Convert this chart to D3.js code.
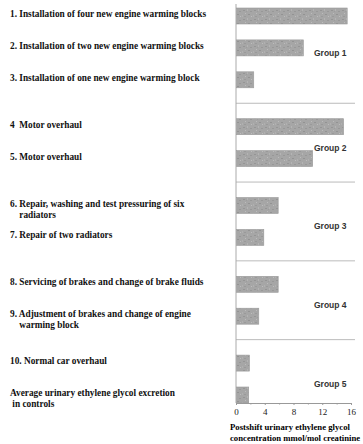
<!DOCTYPE html>
<html>
<head>
<meta charset="utf-8">
<script src="https://cdn.jsdelivr.net/npm/d3@7"></script>
<style>
  body { margin: 0; background: #fff; }
  svg { display: block; }
  .lbl { font-family: 'Liberation Serif', serif; font-weight: bold; font-size: 9.3px; fill: #111; }
  .tit { font-size: 8.7px; fill: #000; }
  .grp { font-family: 'Liberation Sans', sans-serif; font-weight: bold; font-size: 8.5px; fill: #333; }
  .eje text { font-family: 'Liberation Serif', serif; font-size: 9px; fill: #222; }
  .eje path, .eje line { stroke: #999; }
</style>
</head>
<body>
<div id="graf"></div>
<script>
// I. Datos
labels = [
  ['1. Installation of four new engine warming blocks'],
  ['2. Installation of two new engine warming blocks'],
  ['3. Installation of one new engine warming block'],
  ['4  Motor overhaul'],
  ['5. Motor overhaul'],
  ['6. Repair, washing and test pressuring of six', '    radiators'],
  ['7. Repair of two radiators'],
  ['8. Servicing of brakes and change of brake fluids'],
  ['9. Adjustment of brakes and change of engine', '    warming block'],
  ['10. Normal car overhaul'],
  ['Average urinary ethylene glycol excretion', ' in controls']
]
valores = [15.4, 9.3, 2.4, 14.9, 10.6, 5.8, 3.8, 5.8, 3.1, 1.8, 1.7]
grupos  = [0, 0, 0, 1, 1, 2, 2, 3, 3, 4, 4]
nombresGrupo = ['Group 1', 'Group 2', 'Group 3', 'Group 4', 'Group 5']
ticksX = [0, 4, 8, 12, 16]
ticksMenores = [2, 6, 10, 14]
tituloX = ['Postshift urinary ethylene glycol', 'concentration mmol/mol creatinine']

// II. Configuración
ancho = 363
alto = 444
svg = d3.select('#graf').append('svg')
  .attr('width', ancho).attr('height', alto)

// textura gris moteada de las barras
defs = svg.append('defs')
pat = defs.append('pattern').attr('id', 'tex')
  .attr('width', 11).attr('height', 9).attr('patternUnits', 'userSpaceOnUse')
pat.append('rect').attr('width', 11).attr('height', 9).attr('fill', '#a6a6a6')
motas = [
  [1, 1, 2, 1, '#959595'], [5, 0, 1, 2, '#b4b4b4'], [8, 2, 2, 1, '#989898'],
  [3, 4, 1, 1, '#bcbcbc'], [6, 5, 2, 1, '#939393'], [0, 6, 1, 2, '#b0b0b0'],
  [9, 7, 1, 1, '#bdbdbd'], [2, 7, 2, 1, '#9a9a9a'], [4, 2, 1, 1, '#9d9d9d']
]
pat.selectAll('rect.m').data(motas).enter().append('rect')
  .attr('x', d => d[0]).attr('y', d => d[1])
  .attr('width', d => d[2]).attr('height', d => d[3])
  .attr('fill', d => d[4])

x = d3.scaleLinear().domain([0, 16]).range([236, 351])

gap = 0.47
slot = valores.map((d, i) => i + grupos[i] * gap)
y = d3.scaleLinear().domain([0, d3.max(slot)]).range([16, 395])
altoBarra = 16

// III. Separadores de grupo
sep = []
for (let i = 1; i < valores.length; i++) {
  if (grupos[i] !== grupos[i - 1]) sep.push((y(slot[i]) + y(slot[i - 1])) / 2)
}
svg.selectAll('line.sep').data(sep).enter().append('line')
  .attr('class', 'sep')
  .attr('x1', x(0)).attr('x2', x(16) + 4)
  .attr('y1', d => d).attr('y2', d => d)
  .attr('stroke', '#bbb').attr('stroke-width', 1)

// eje vertical
svg.append('line')
  .attr('x1', x(0)).attr('x2', x(0))
  .attr('y1', 4).attr('y2', y(slot[slot.length - 1]) + altoBarra / 2)
  .attr('stroke', '#aaa')

// IV. Barras
svg.selectAll('rect.bar').data(valores).enter().append('rect')
  .attr('class', 'bar')
  .attr('x', x(0) + 0.5)
  .attr('y', (d, i) => y(slot[i]) - altoBarra / 2)
  .attr('width', d => x(d) - x(0))
  .attr('height', altoBarra)
  .attr('fill', 'url(#tex)')
  .attr('stroke', '#9a9a9a').attr('stroke-width', 0.6)

// V. Etiquetas
lbl = svg.selectAll('text.lbl').data(labels).enter().append('text')
  .attr('class', 'lbl')
  .attr('x', 10)
  .attr('y', (d, i) => y(slot[i]) + 1)
  .attr('xml:space', 'preserve')
lbl.selectAll('tspan').data(d => d).enter().append('tspan')
  .attr('x', 10)
  .attr('dy', (d, j) => j === 0 ? 0 : 11)
  .text(d => d)

// Nombres de grupo
svg.selectAll('text.grp').data(nombresGrupo).enter().append('text')
  .attr('class', 'grp')
  .attr('x', 314)
  .attr('y', (d, g) => {
    idx = d3.range(valores.length).filter(i => grupos[i] === g)
    return d3.mean(idx, i => y(slot[i])) + 8
  })
  .text(d => d)

// VI. Eje X
ejeY = y(slot[slot.length - 1]) + altoBarra / 2
svg.append('g')
  .attr('class', 'eje')
  .attr('transform', `translate(0, ${ ejeY })`)
  .call(d3.axisBottom(x).tickValues(ticksX).tickSize(2).tickPadding(4))

svg.append('g')
  .attr('class', 'eje')
  .attr('transform', `translate(0, ${ ejeY })`)
  .call(d3.axisBottom(x).tickValues(ticksMenores).tickSize(1.5).tickFormat(''))
  .select('.domain').remove()

svg.selectAll('text.tit').data(tituloX).enter().append('text')
  .attr('class', 'lbl tit')
  .attr('x', 230)
  .attr('y', (d, i) => 430 + i * 11)
  .text(d => d)
</script>
</body>
</html>
